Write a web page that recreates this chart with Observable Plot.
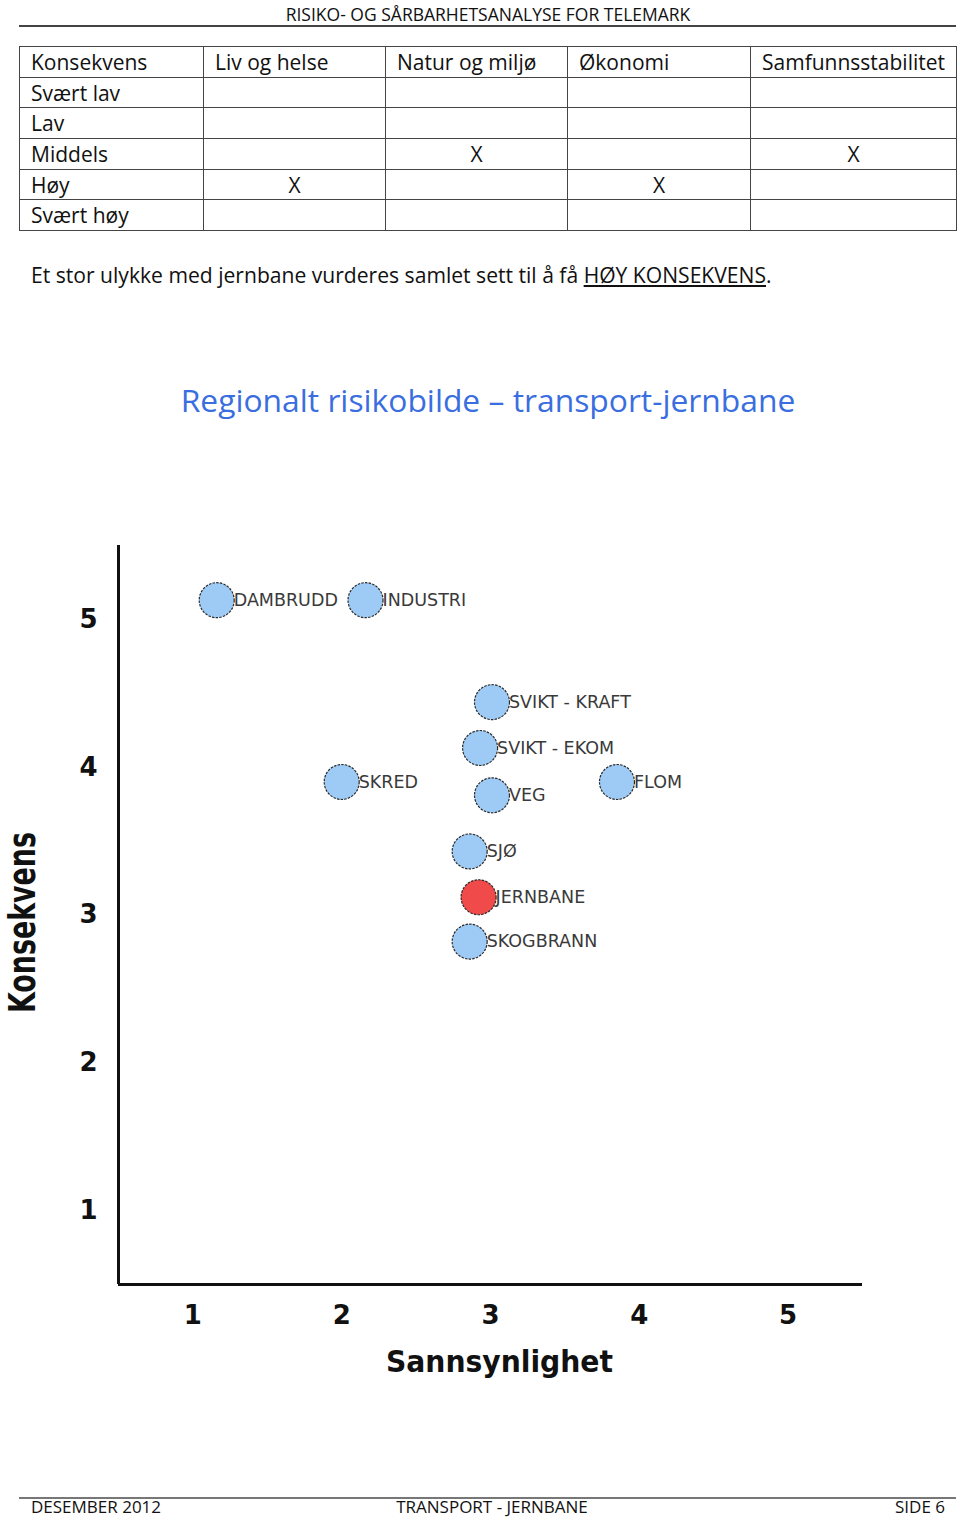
<!DOCTYPE html>
<html><head><meta charset="utf-8">
<script src="https://cdn.jsdelivr.net/npm/d3@7"></script>
<script src="https://cdn.jsdelivr.net/npm/@observablehq/plot@0.6"></script>
<style>
body{margin:0;background:#fff;}
#page{position:relative;width:960px;height:1521px;overflow:hidden;font-family:"Open Sans",Lato,sans-serif;color:#111;}
.abs{position:absolute;white-space:nowrap;}
#hdr{top:3px;left:0;width:976px;text-align:center;font-size:17.5px;line-height:22px;}
.rule{position:absolute;left:19px;width:937px;height:0;}
#tbl{position:absolute;top:46px;left:19px;width:937px;border-collapse:collapse;table-layout:fixed;font-size:21px;}
#tbl td{border:1px solid #444;height:29.7px;padding:0 0 0 11px;line-height:28px;vertical-align:middle;overflow:hidden;white-space:nowrap;}
#tbl td.x{text-align:center;padding:0;}
#sent{top:261px;left:31px;font-size:21.1px;line-height:28px;}
#title{top:378px;left:0;width:976px;text-align:center;font-size:31.8px;line-height:44px;color:#3a6ee0;}
#chart{position:absolute;top:500px;left:0;}
.foot{top:1499px;font-size:17px;line-height:16px;}
</style></head><body><div id="page">
<div id="hdr" class="abs"></div>
<div class="rule" style="top:25px;border-top:2px solid #444;"></div>
<table id="tbl"></table>
<div id="sent" class="abs"></div>
<div id="title" class="abs"></div>
<div id="chart"></div>
<div class="rule" style="top:1497px;border-top:2px solid #777;"></div>
<div id="f1" class="abs foot" style="left:31px;"></div>
<div id="f2" class="abs foot" style="left:0;width:984px;text-align:center;"></div>
<div id="f3" class="abs foot" style="right:15px;"></div>
</div>
<script>
// ---- document texts ----
const headerText = "RISIKO- OG SÅRBARHETSANALYSE FOR TELEMARK";
const sentenceText = "Et stor ulykke med jernbane vurderes samlet sett til å få ";
const sentenceEmph = "HØY KONSEKVENS";
const titleText = "Regionalt risikobilde – transport-jernbane";
const footerTexts = ["DESEMBER 2012", "TRANSPORT - JERNBANE", "SIDE 6"];

// ---- table ----
const tableColumns = ["Konsekvens", "Liv og helse", "Natur og miljø", "Økonomi", "Samfunnsstabilitet"];
const consequenceLevels = ["Svært lav", "Lav", "Middels", "Høy", "Svært høy"];
const levelLivHelse = "Høy";
const levelNaturMiljo = "Middels";
const levelOkonomi = "Høy";
const levelSamfunn = "Middels";
const colWidths = [184, 182, 182, 183, 206];

// ---- chart data ----
const hazards = ["DAMBRUDD", "INDUSTRI", "SVIKT - KRAFT", "SVIKT - EKOM", "SKRED", "VEG", "FLOM", "SJØ", "JERNBANE", "SKOGBRANN"];
const sannsynlighet = [1.16, 2.16, 3.01, 2.93, 2.0, 3.01, 3.85, 2.86, 2.92, 2.86];
const konsekvens = [5.13, 5.13, 4.44, 4.13, 3.9, 3.81, 3.9, 3.43, 3.12, 2.82];
const highlighted = "JERNBANE";
const tickValues = [1, 2, 3, 4, 5];
const xTitle = "Sannsynlighet";
const yTitle = "Konsekvens";

// build header / text
document.getElementById("hdr").textContent = headerText;
const sent = document.getElementById("sent");
sent.append(sentenceText);
const u = document.createElement("u"); u.textContent = sentenceEmph; sent.append(u); sent.append(".");
document.getElementById("title").textContent = titleText;
["f1","f2","f3"].forEach((id,i)=>document.getElementById(id).textContent = footerTexts[i]);

// build table
const marks = [levelLivHelse, levelNaturMiljo, levelOkonomi, levelSamfunn];
const tbl = d3.select("#tbl");
const cg = tbl.append("colgroup");
colWidths.forEach(w => cg.append("col").style("width", w + "px"));
const hr = tbl.append("tr");
tableColumns.forEach(c => hr.append("td").text(c));
consequenceLevels.forEach(level => {
  const tr = tbl.append("tr");
  tr.append("td").text(level);
  marks.forEach(m => tr.append("td").attr("class", "x").text(m === level ? "X" : ""));
});

// chart
const data = hazards.map((h, i) => ({name: h, x: sannsynlighet[i], y: konsekvens[i], color: h === highlighted ? "#f04a4a" : "#9ecbf6"}));
const chart = Plot.plot({
  width: 960, height: 920,
  marginLeft: 118, marginRight: 98, marginTop: 45, marginBottom: 136,
  x: {domain: [0.5, 5.5]},
  y: {domain: [0.5, 5.5]},
  color: {type: "identity"},
  style: {fontFamily: "DejaVu Sans", background: "transparent", color: "#111"},
  marks: [
    Plot.axisX(tickValues, {tickSize: 0, tickPadding: 21, fontSize: 26, fontWeight: "bold", label: null, fill: "#111", tickFormat: "d"}),
    Plot.axisY(tickValues, {tickSize: 0, tickPadding: 21, fontSize: 26, fontWeight: "bold", label: null, fill: "#111", tickFormat: "d"}),
    Plot.ruleX([0.5], {stroke: "#111", strokeWidth: 3}),
    Plot.ruleY([0.5], {stroke: "#111", strokeWidth: 3}),
    Plot.dot(data, {x: "x", y: "y", r: 17.5, fill: "color", stroke: "#2a2a2a", strokeWidth: 1.2, strokeDasharray: "2.5,1.2"}),
    Plot.text(data, {x: "x", y: "y", text: "name", textAnchor: "start", dx: 17, fontSize: 17.5, fill: "#3a3a3a"}),
    Plot.text([xTitle], {frameAnchor: "bottom", dx: 9, dy: 87, fontSize: 31, fontWeight: "bold", fill: "#111", fontFamily: "DejaVu Sans Condensed"}),
    Plot.text([yTitle], {frameAnchor: "left", rotate: -90, textAnchor: "start", dx: -96, dy: 98, fontSize: 38, fontWeight: "bold", fill: "#111", fontFamily: "DejaVu Sans Condensed"})
  ]
});
document.getElementById("chart").append(chart);
// squeeze axis titles to the reference widths
d3.select(chart).selectAll("text").each(function() {
  const t = this.textContent;
  if (t === xTitle) d3.select(this).attr("textLength", 227).attr("lengthAdjust", "spacingAndGlyphs");
  if (t === yTitle) d3.select(this).attr("textLength", 181).attr("lengthAdjust", "spacingAndGlyphs");
});
</script>
</body></html>
